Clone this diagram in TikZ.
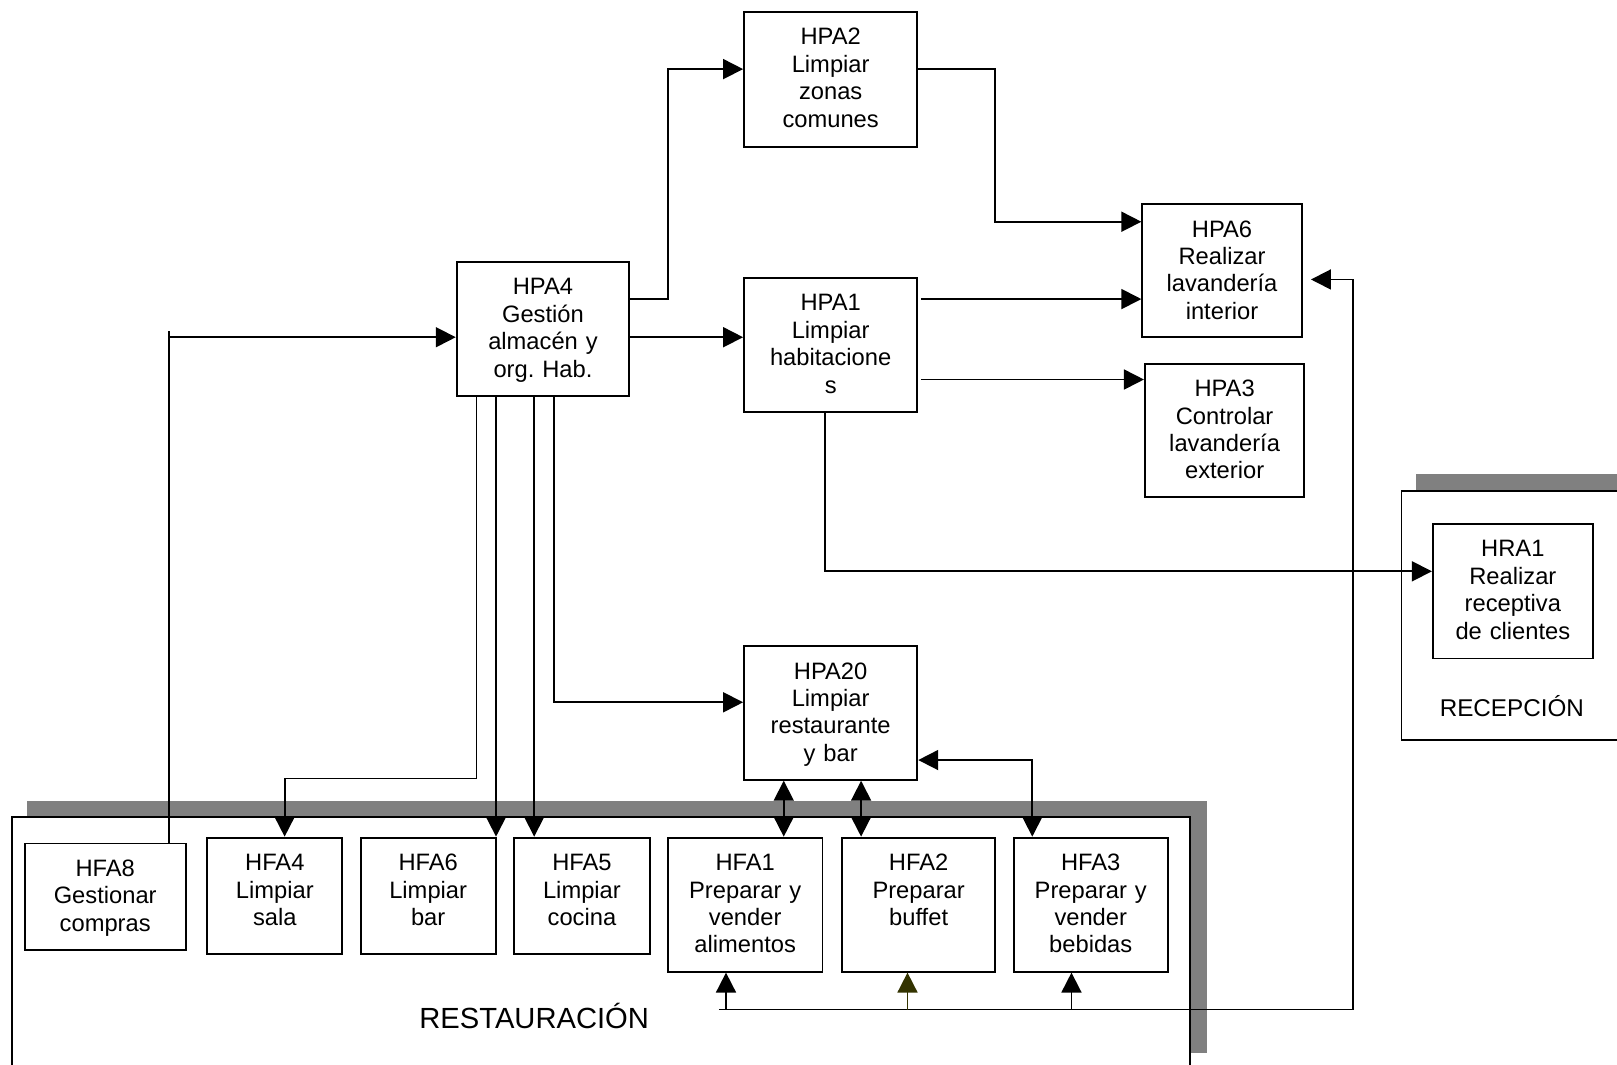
\documentclass[tikz,border=0pt]{standalone}
\usepackage{fontspec}
\setmainfont{Liberation Sans}
\usetikzlibrary{arrows.meta}

\definecolor{sombra}{RGB}{128,128,128}
\definecolor{oliva}{RGB}{51,51,0}
\newcommand{\procfont}{\fontsize{13.5}{15.6}\selectfont\frenchspacing}
\newcommand{\areafont}{\fontsize{16.6}{19}\selectfont}

\tikzset{
  proc/.style 2 args={draw, fill=white, line width=1.1pt, inner sep=0pt, anchor=north,
    align=center, font=\procfont, text height=0.66cm, text width=#1, text depth=#2},
  area/.style={draw, fill=white, line width=1.1pt},
  flecha/.style={line width=1pt, -{Triangle[length=0.4cm,width=0.4cm]}},
  doble/.style={line width=1pt, {Triangle[length=0.4cm,width=0.4cm]}-{Triangle[length=0.4cm,width=0.4cm]}},
}

\begin{document}
\begin{tikzpicture}[x=0.020625cm, y=-0.020625cm]
  \useasboundingbox (0,0) rectangle (1568,1031.8);
  \clip (0,0) rectangle (1568,1031.8);
  \fill[sombra] (26,776.5) rectangle (1170,1021);
  \draw[area] (11.5,792.5) rectangle (1154,1040);
  \fill[sombra] (1373.5,459.6) rectangle (1640,702);
  \draw[area] (1359,476) rectangle (1640,717.6);
  \node[font=\areafont, anchor=base] (restauracion) at (518,997) {RESTAURACIÓN};
  \node[font=\fontsize{13.8}{16}\selectfont, anchor=base] (recepcion) at (1466,695) {RECEPCIÓN};

  \node[proc={3.465cm}{2.042cm}] (hpa2) at (805.5,10.5) {HPA2\\Limpiar\\zonas\\comunes};
  \node[proc={3.189cm}{2.007cm}] (hpa6) at (1185,197) {HPA6\\Realizar\\lavandería\\interior};
  \node[proc={3.45cm}{2.021cm}] (hpa4) at (526.5,253) {HPA4\\Gestión\\almacén y\\org. Hab.};
  \node[proc={3.465cm}{2.021cm}] (hpa1) at (805.5,268.5) {HPA1\\Limpiar\\habitacione\\s};
  \node[proc={3.189cm}{2.007cm}] (hpa3) at (1187.5,351.7) {HPA3\\Controlar\\lavandería\\exterior};
  \node[proc={3.465cm}{2.015cm}] (hpa20) at (805.5,625.5) {HPA20\\Limpiar\\restaurante\\y bar};
  \node[proc={3.2cm}{2.034cm}] (hra1) at (1467,507) {HRA1\\Realizar\\receptiva\\de clientes};
  \node[proc={3.218cm}{1.464cm}] (hfa8) at (102,817) {HFA8\\Gestionar\\compras};
  \node[proc={2.702cm}{1.66cm}] (hfa4) at (266.5,811.3) {HFA4\\Limpiar\\sala};
  \node[proc={2.696cm}{1.66cm}] (hfa6) at (415.2,811.3) {HFA6\\Limpiar\\bar};
  \node[proc={2.706cm}{1.66cm}] (hfa5) at (564.3,811.3) {HFA5\\Limpiar\\cocina};
  \node[proc={3.094cm}{2.021cm}] (hfa1) at (722.6,811.3) {HFA1\\Preparar y\\vender\\alimentos};
  \node[proc={3.073cm}{2.021cm}] (hfa2) at (890.8,811.3) {HFA2\\Preparar\\buffet};
  \node[proc={3.086cm}{2.021cm}] (hfa3) at (1057.7,811.3) {HFA3\\Preparar y\\vender\\bebidas};

  \draw[flecha] (hfa8.north -| 164,0) -- (164,321) ++(0,6) -- (hpa4.west |- 0,327);
  \draw[flecha] (hpa4.east |- 0,290) -| (648,67) -- (hpa2.west |- 0,67);
  \draw[flecha] (hpa4.east |- 0,327) -- (hpa1.west |- 0,327);
  \draw[flecha] (hpa2.east |- 0,67) -| (965,215) -- (hpa6.west |- 0,215);
  \draw[flecha, shorten <=0.05cm] (hpa1.east |- 0,290) -- (hpa6.west |- 0,290);
  \draw[flecha, shorten <=0.05cm] (hpa1.east |- 0,368) -- (hpa3.west |- 0,368);
  \draw[flecha] (hpa1.south -| 800,0) |- (hra1.west |- 0,554);
  \draw[flecha] (hpa4.south -| 462,0) |- (276,755) -- (hfa4.north -| 276,0);
  \draw[flecha] (hpa4.south -| 481,0) -- (hfa6.north -| 481,0);
  \draw[flecha] (hpa4.south -| 518,0) -- (hfa5.north -| 518,0);
  \draw[flecha] (hpa4.south -| 537,0) |- (hpa20.west |- 0,681);
  \draw[doble] (hpa20.south -| 760,0) -- (hfa1.north -| 760,0);
  \draw[doble] (hpa20.south -| 835,0) -- (hfa2.north -| 835,0);
  \draw[doble] (hfa3.north -| 1001,0) |- (hpa20.east |- 0,737);

  \coordinate (bus) at (697,979);
  \coordinate (busfin) at (1312,979);
  \draw[flecha, shorten >=0.165cm] (bus) -- (busfin) |- (hpa6.east |- 0,271);
  \draw[flecha] (bus -| 704,0) -- (hfa1.south -| 704,0);
  \draw[flecha, oliva] (bus -| 880,0) -- (hfa2.south -| 880,0);
  \draw[flecha] (bus -| 1039,0) -- (hfa3.south -| 1039,0);
\end{tikzpicture}
\end{document}
